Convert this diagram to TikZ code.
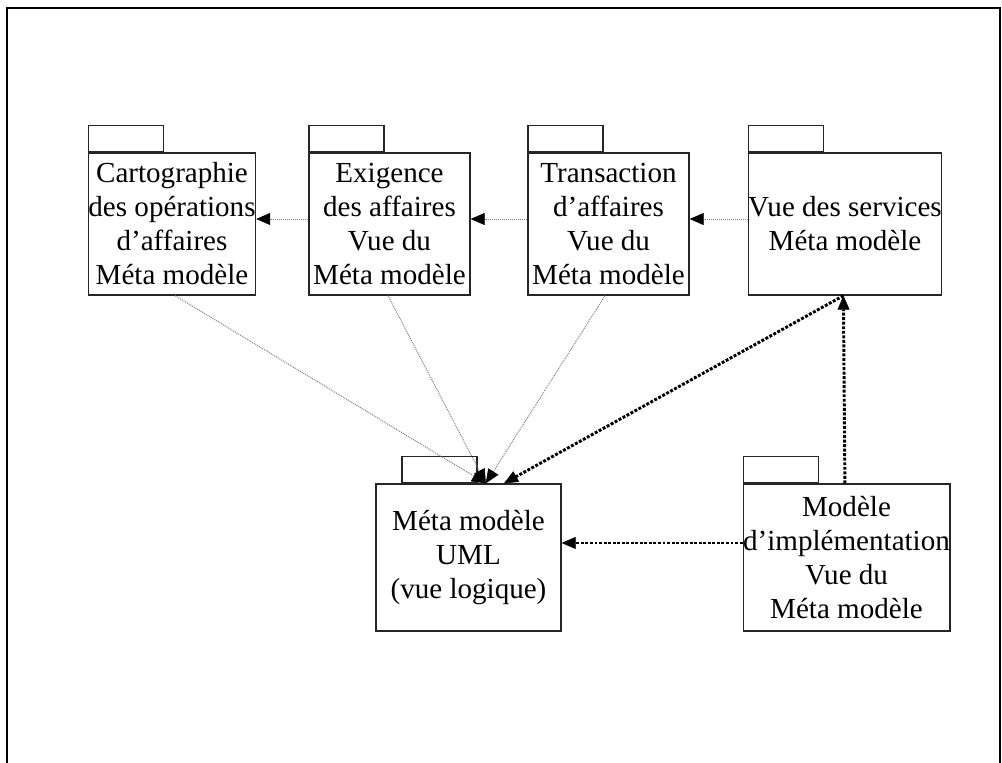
\documentclass[tikz,border=0pt]{standalone}
\usepackage{fontspec}
\setmainfont{Liberation Serif}
\usetikzlibrary{arrows.meta,calc}

\begin{document}
\begin{tikzpicture}[x=0.75pt,y=-0.75pt,
  pkgbody/.style={draw=black!85,line width=1pt,rectangle,inner sep=0pt,
    align=center,font=\fontsize{21.8}{25.5}\selectfont},
  rowtop/.style={minimum height=106.5pt},
  rowbottom/.style={minimum height=110.25pt},
  pkgtab/.style={draw=black!85,line width=1pt,rectangle,inner sep=0pt,
    minimum width=56.25pt,minimum height=19.5pt,anchor=south west},
  thinlink/.style={draw=black!50,line width=0.75pt,dash pattern=on 0.75pt off 0.75pt,
    -{Triangle[length=10.5pt,width=9pt,line width=0.4pt,black]}},
  boldlink/.style={draw=black,line width=2.2pt,dash pattern=on 2.2pt off 1.2pt,
    -{Triangle[length=10.5pt,width=9pt,line width=0.4pt]}},
]
\useasboundingbox (0,0) rectangle (1002,763);

% outer frame
\draw[line width=1.5pt] (7,775) -- (7,8) -- (1000,8) -- (1000,775);

% upper row of packages
\node[pkgbody,rowtop,minimum width=120pt] (carto) at (172,224)
  {Cartographie\\des opérations\\d’affaires\\Méta modèle};
\node[pkgtab] (cartotab) at (carto.north west) {};

\node[pkgbody,rowtop,minimum width=120.75pt] (exig) at (389.5,224)
  {Exigence\\des affaires\\Vue du\\Méta modèle};
\node[pkgtab] (exigtab) at (exig.north west) {};

\node[pkgbody,rowtop,minimum width=120.75pt] (trans) at (608.5,224)
  {Transaction\\d’affaires\\Vue du\\Méta modèle};
\node[pkgtab] (transtab) at (trans.north west) {};

\node[pkgbody,rowtop,minimum width=142.5pt] (serv) at (845,224)
  {Vue des services\\Méta modèle};
\node[pkgtab] (servtab) at (serv.north west) {};

% lower row of packages
\node[pkgbody,rowbottom,minimum width=138.75pt] (uml) at (468.5,557.5)
  {Méta modèle\\UML\\(vue logique)};
\node[pkgtab] (umltab) at ([xshift=19.5pt]uml.north west) {};

\node[pkgbody,rowbottom,minimum width=144.75pt] (impl) at (846.5,557.5)
  {Modèle\\d’implémentation\\Vue du\\Méta modèle};
\node[pkgtab] (impltab) at (impl.north west) {};

% dependencies along the upper row
\draw[thinlink] ([yshift=3.75pt]exig.west) -- ([yshift=3.75pt]carto.east);
\draw[thinlink] ([yshift=3.75pt]trans.west) -- ([yshift=3.75pt]exig.east);
\draw[thinlink] ([yshift=3.75pt]serv.west) -- ([yshift=3.75pt]trans.east);

% dependencies towards the UML meta model
\draw[thinlink] ([xshift=2.25pt]carto.south) -- ([xshift=13pt]uml.north);
\draw[thinlink] ([xshift=-1.1pt]exig.south) -- ([xshift=13pt]uml.north);
\draw[thinlink] ([xshift=-2.6pt]trans.south) -- ([xshift=13pt]uml.north);
\draw[boldlink] ([xshift=-1.2pt]serv.south) -- ([xshift=26.6pt]uml.north);

% implementation model links
\draw[boldlink] ([xshift=-1.2pt]impl.north) -- ([xshift=-1.2pt]serv.south);
\draw[boldlink] ([yshift=10.9pt]impl.west) -- ([yshift=10.9pt]uml.east);
\end{tikzpicture}
\end{document}
